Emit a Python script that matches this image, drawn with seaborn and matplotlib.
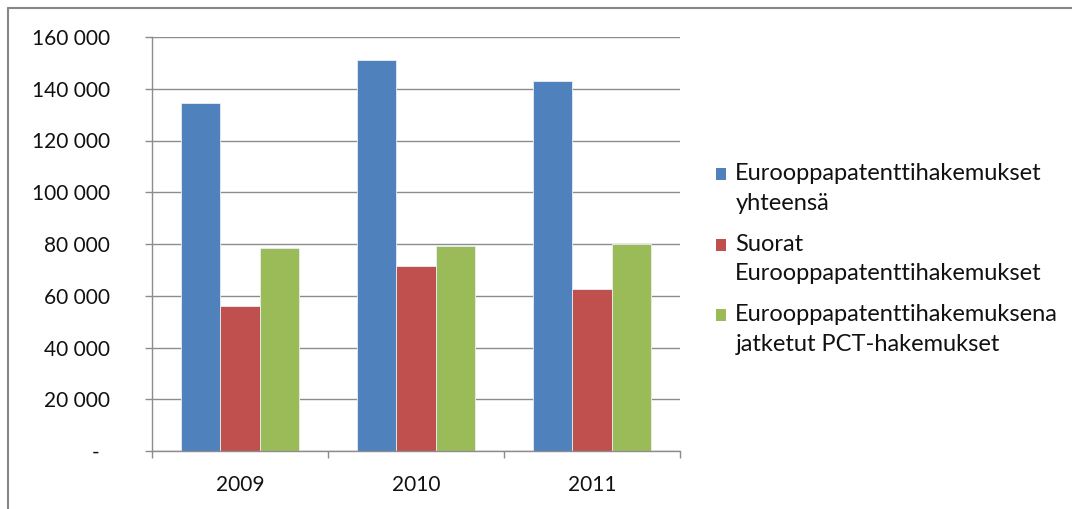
import matplotlib
matplotlib.use("Agg")
import matplotlib.pyplot as plt
import seaborn as sns
import pandas as pd
from matplotlib.lines import Line2D
from matplotlib.patches import Patch, Rectangle
from matplotlib.legend_handler import HandlerPatch
from matplotlib.ticker import FixedLocator

years = ["2009", "2010", "2011"]
series_names = [
    "Eurooppapatenttihakemukset\nyhteensä",
    "Suorat\nEurooppapatenttihakemukset",
    "Eurooppapatenttihakemuksena\njatketut PCT-hakemukset",
]
total_apps = [134500, 151200, 142900]
direct_apps = [56000, 71500, 62600]
pct_apps = [78400, 79400, 80100]
y_ticks = [0, 20000, 40000, 60000, 80000, 100000, 120000, 140000, 160000]
y_tick_labels = ["-  ", "20 000", "40 000", "60 000", "80 000", "100 000", "120 000", "140 000", "160 000"]
colors = ["#4F81BD", "#C0504D", "#9BBB59"]

rows = []
for name, vals in zip(series_names, [total_apps, direct_apps, pct_apps]):
    for y, v in zip(years, vals):
        rows.append({"Vuosi": y, "Sarja": name, "Arvo": v})
df = pd.DataFrame(rows)

sns.set_theme(style="white")
plt.rcParams["font.family"] = ["Lato", "DejaVu Sans"]

fig = plt.figure(figsize=(10.72, 5.09), dpi=100)
ax = fig.add_axes([152 / 1072, 58 / 509, (680 - 152) / 1072, (451 - 37) / 509])

sns.barplot(data=df, x="Vuosi", y="Arvo", hue="Sarja", order=years,
            hue_order=series_names, palette=colors, width=0.665,
            saturation=1, edgecolor="#e8eef6", linewidth=0.6, ax=ax, legend=False)

ax.set_xlim(-0.5, 2.5)
ax.set_ylim(0, 160000)
ax.set_yticks(y_ticks)
ax.set_yticklabels(y_tick_labels)
ax.set_xlabel("")
ax.set_ylabel("")
ax.yaxis.grid(True, color="#8c8c8c", linewidth=1.0)
ax.set_axisbelow(True)

for s in ["top", "right"]:
    ax.spines[s].set_visible(False)
for s in ["left", "bottom"]:
    ax.spines[s].set_color("#8c8c8c")
    ax.spines[s].set_linewidth(1.0)

ax.tick_params(axis="y", which="major", direction="out", length=5, width=1,
               color="#8c8c8c", pad=25, labelsize=15, labelcolor="#111111", left=True)
ax.tick_params(axis="x", which="major", length=0, pad=17, labelsize=15, labelcolor="#111111")
ax.xaxis.set_minor_locator(FixedLocator([-0.5, 0.5, 1.5, 2.5]))
ax.tick_params(axis="x", which="minor", direction="out", length=5, width=1,
               color="#8c8c8c", bottom=True)


def top_square(legend, orig_handle, xdescent, ydescent, width, height, fontsize):
    return Rectangle((-xdescent, -ydescent + 0.6 * fontsize), width, height)


handles = [Patch(facecolor=c, edgecolor="none") for c in colors]
leg = ax.legend(handles, series_names, loc="upper left",
                bbox_to_anchor=(716 / 1072, 1 - 163 / 509), bbox_transform=fig.transFigure,
                frameon=False, fontsize=17, handlelength=0.42, handleheight=0.42,
                handletextpad=0.4, labelspacing=0.85, borderpad=0, borderaxespad=0,
                labelcolor="#111111",
                handler_map={Patch: HandlerPatch(patch_func=top_square)})
for t in leg.get_texts():
    t.set_linespacing(1.5)

fig.add_artist(Line2D([8 / 1072, 8 / 1072], [0, 1 - 8 / 509], transform=fig.transFigure,
                      color="#868686", linewidth=1.5))
fig.add_artist(Line2D([8 / 1072, 1], [1 - 8 / 509, 1 - 8 / 509], transform=fig.transFigure,
                      color="#868686", linewidth=1.5))

fig.savefig("out.png", dpi=100, facecolor="white")
